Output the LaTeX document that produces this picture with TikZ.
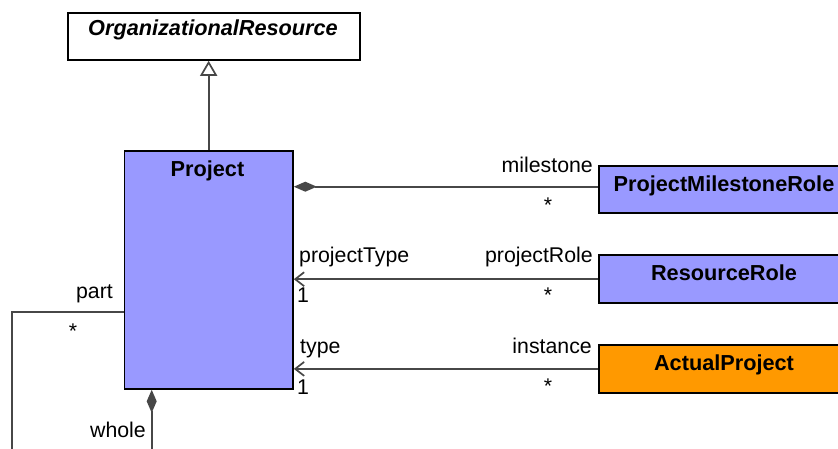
\documentclass[tikz,border=0pt]{standalone}
\usepackage{fontspec}
\setmainfont{Liberation Sans}
\usetikzlibrary{arrows.meta,calc}
\definecolor{clsblue}{HTML}{9999FF}
\definecolor{clsorange}{HTML}{FF9900}
\definecolor{linegray}{HTML}{474747}
\begin{document}
\begin{tikzpicture}[x=1pt,y=-1pt,
  cls/.style={draw=black, line width=1.8pt, inner sep=0pt, anchor=north west},
  cname/.style={font=\fontsize{21.7}{25}\selectfont\bfseries, anchor=base, inner sep=0pt},
  rolelbl/.style={font=\fontsize{21.3}{25}\selectfont, inner sep=0pt},
  assoc/.style={draw=linegray, line width=1.7pt},
  navtip/.style={-{Straight Barb[length=9pt,width=14pt]}},
  comptip/.style={{Diamond[length=23pt,width=10pt,fill=linegray]}-},
  gentip/.style={-{Triangle[open,length=15pt,width=17pt,fill=white]}}
]
\clip (0,0) rectangle (838,449);
\fill[white] (0,0) rectangle (838,449);

% class boxes
\node[cls, fill=white, minimum width=292pt, minimum height=47pt] (org) at (67,12) {};
\node[cls, fill=clsblue, minimum width=168.5pt, minimum height=238pt] (project) at (123.5,150) {};
\node[cls, fill=clsblue, minimum width=252pt, minimum height=47.3pt] (pmr) at (598,165) {};
\node[cls, fill=clsblue, minimum width=252pt, minimum height=48pt] (rr) at (598,254.3) {};
\node[cls, fill=clsorange, minimum width=252pt, minimum height=47.4pt] (ap) at (598,344.3) {};

% class names
\node[cname, font=\fontsize{21.7}{25}\selectfont\bfseries\itshape] (orgname) at (213,35.7) {OrganizationalResource};
\node[cname] (projectname) at (207.5,176.7) {Project};
\node[cname] (pmrname) at (724,191.4) {ProjectMilestoneRole};
\node[cname] (rrname) at (724,280.7) {ResourceRole};
\node[cname] (apname) at (724,370) {ActualProject};

% generalization
\draw[assoc, gentip] (project.north) -- (project.north |- org.south);

% composition milestone
\coordinate (msrow) at (598,186.7);
\draw[assoc, comptip] (project.east |- msrow) -- (msrow -| pmr.west);
\node[rolelbl, anchor=base east] (lmilestone) at (593,172.7) {milestone};
\node[rolelbl, anchor=base] (lmilestonemult) at (548,212.7) {*};

% navigable associations
\draw[assoc, navtip] (rr.west) -- (project.east |- rr.west);
\node[rolelbl, anchor=base west] (lprojecttype) at (299,262.7) {projectType};
\node[rolelbl, anchor=base east] (lprojectrole) at (593,262.7) {projectRole};
\node[rolelbl, anchor=base west] (lone1) at (297,302.3) {1};
\node[rolelbl, anchor=base] (lrrmult) at (548,302) {*};

\draw[assoc, navtip] (ap.west) -- (project.east |- ap.west);
\node[rolelbl, anchor=base west] (ltype) at (300,353.3) {type};
\node[rolelbl, anchor=base east] (linstance) at (592,353.3) {instance};
\node[rolelbl, anchor=base west] (lone2) at (297,394.3) {1};
\node[rolelbl, anchor=base] (lapmult) at (548,393.7) {*};

% part / whole self-composition
\coordinate (partcorner) at (12,312.3);
\coordinate (partend) at (12,470);
\coordinate (wholeend) at (151.7,470);
\draw[assoc] (partcorner -| project.west) -- (partcorner) -- (partend);
\draw[assoc, comptip] (wholeend |- project.south) -- (wholeend);
\node[rolelbl, anchor=base east] (lpart) at (113,298) {part};
\node[rolelbl, anchor=base] (lpartmult) at (73,338.7) {*};
\node[rolelbl, anchor=base east] (lwhole) at (146,437) {whole};
\end{tikzpicture}
\end{document}
